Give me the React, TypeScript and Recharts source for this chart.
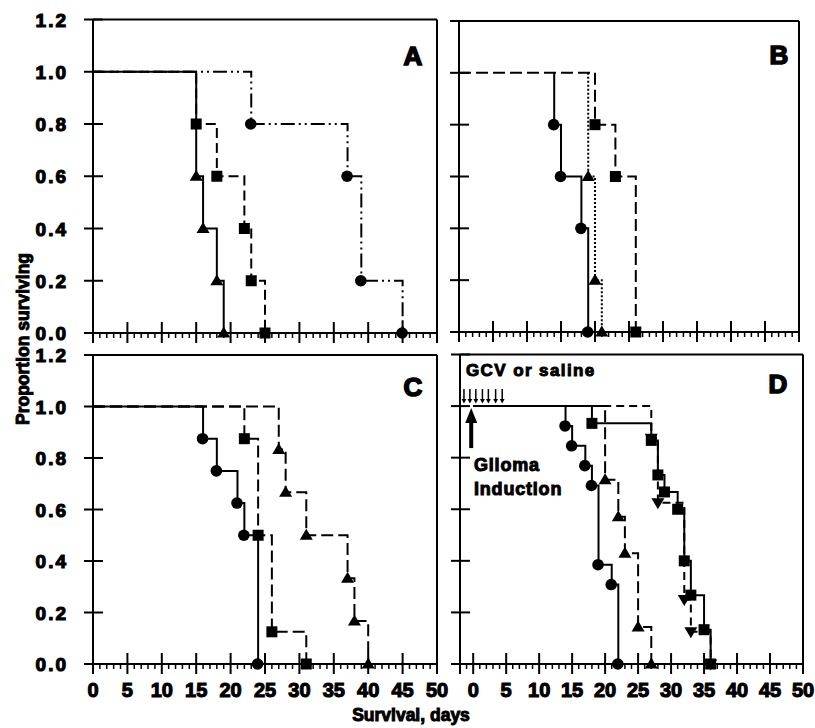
import React from 'react';
import { LineChart, Line, XAxis, YAxis, ReferenceLine, ReferenceDot } from 'recharts';

// ---- Panel A ----
const aTriDays = [0, 15, 16, 18, 19];
const aTriSurv = [1, 0.6, 0.4, 0.2, 0];
const aSqDays = [0, 15, 18, 22, 23, 25];
const aSqSurv = [1, 0.8, 0.6, 0.4, 0.2, 0];
const aCirDays = [0, 23, 37, 39, 45];
const aCirSurv = [1, 0.8, 0.6, 0.2, 0];

// ---- Panel B ----
const bCirDays = [14, 14, 15, 18, 19];
const bCirSurv = [1, 0.8, 0.6, 0.4, 0];
const bTriDays = [19, 19, 20, 21];
const bTriSurv = [1, 0.6, 0.2, 0];
const bSqDays = [0, 20, 23, 26];
const bSqSurv = [1, 0.8, 0.6, 0];

// ---- Panel C ----
const cCirDays = [0, 16, 18, 21, 22, 24];
const cCirSurv = [1, 0.875, 0.75, 0.625, 0.5, 0];
const cSqDays = [0, 22, 24, 26, 31];
const cSqSurv = [1, 0.875, 0.5, 0.125, 0];
const cTriDays = [0, 27, 28, 31, 37, 38, 40];
const cTriSurv = [1, 0.833, 0.667, 0.5, 0.333, 0.167, 0];

// ---- Panel D ----
const dCirDays = [0, 14, 15, 17, 18, 19, 21, 22];
const dCirSurv = [1, 0.923, 0.846, 0.769, 0.692, 0.385, 0.308, 0];
const dTriDays = [0, 20, 22, 23, 25, 27];
const dTriSurv = [1, 0.714, 0.571, 0.429, 0.143, 0];
const dSqDays = [0, 18, 27, 28, 29, 31, 32, 33, 35, 36];
const dSqSurv = [1, 0.933, 0.867, 0.733, 0.667, 0.6, 0.4, 0.267, 0.133, 0];
const dDownDays = [0, 27, 28, 32, 33, 36];
const dDownSurv = [1, 0.875, 0.625, 0.25, 0.125, 0];

// GCV / saline dosing days and glioma induction day (panel D annotation)
const gcvDays = [-1.4, -0.5, 0.4, 1.4, 2.3, 3.4, 4.4];
const inductionDay = -0.3;

const yTicks = [0, 0.2, 0.4, 0.6, 0.8, 1.0, 1.2];
const xTicksMain = Array.from({ length: 51 }, (_, i) => i);
const xTicksD = Array.from({ length: 53 }, (_, i) => i - 2);

const W = 815;
const H = 728;
const FONT = '"Liberation Sans", Arial, Helvetica, sans-serif';

const toPts = (days: number[], surv: number[]) => days.map((d, i) => ({ x: d, y: surv[i] }));

type Shape = 'circle' | 'square' | 'triangle' | 'down';

const Marker = (p: any) => {
  const { cx, cy, index, shape } = p;
  if (index === 0 || cx == null || cy == null) return <g key={`m${index}`} />;
  if (shape === 'circle') return <circle key={`m${index}`} cx={cx - 0.5} cy={cy} r={5.8} fill="#000" />;
  if (shape === 'square') return <rect key={`m${index}`} x={cx - 5.5} y={cy - 5.5} width={11} height={11} fill="#000" />;
  if (shape === 'triangle')
    return <path key={`m${index}`} d={`M${cx},${cy - 6.5} L${cx + 6.5},${cy + 4.5} L${cx - 6.5},${cy + 4.5} Z`} fill="#000" />;
  return <path key={`m${index}`} d={`M${cx},${cy + 6.5} L${cx + 6.5},${cy - 4.5} L${cx - 6.5},${cy - 4.5} Z`} fill="#000" />;
};

const XTick = (p: any) => {
  const { x, y, payload, showLabel, min } = p;
  const v = payload.value;
  const major = v % 5 === 0 || v === min;
  return (
    <g>
      {major ? (
        <line x1={x} x2={x} y1={y - 11} y2={y + 10} stroke="#000" strokeWidth={2} />
      ) : (
        <line x1={x} x2={x} y1={y} y2={y + 5} stroke="#000" strokeWidth={1.5} />
      )}
      {showLabel && v >= 0 && v % 5 === 0 && (
        <text x={x} y={y + 33} textAnchor="middle" fontFamily={FONT} fontWeight={700} fontSize={20}
          fill="#000" stroke="#000" strokeWidth={1.1}>
          {v}
        </text>
      )}
    </g>
  );
};

const YTick = (p: any) => {
  const { x, y, payload, showLabel } = p;
  return (
    <g>
      <line x1={x - 9} x2={x + 10} y1={y} y2={y} stroke="#000" strokeWidth={2} />
      {showLabel && (
        <text x={x - 25} y={y + 7} textAnchor="end" fontFamily={FONT} fontWeight={700} fontSize={19}
          fill="#000" stroke="#000" strokeWidth={1.1} letterSpacing={2}>
          {payload.value.toFixed(1)}
        </text>
      )}
    </g>
  );
};

type Series = { key: string; days: number[]; surv: number[]; shape: Shape; dash?: string };

type PanelProps = {
  box: { l: number; r: number; t: number; b: number };
  xDomain: [number, number];
  xTicks: number[];
  xLabels: boolean;
  yLabels: boolean;
  series: Series[];
  children?: React.ReactNode;
};

function Panel({ box, xDomain, xTicks, xLabels, yLabels, series, children }: PanelProps) {
  const yW = 50;
  const xH = 40;
  const margin = { left: box.l - yW, top: box.t, right: W - box.r, bottom: H - box.b - xH };
  return (
    <div style={{ position: 'absolute', left: 0, top: 0 }}>
      <LineChart width={W} height={H} margin={margin} style={{ overflow: 'visible' }}>
        <XAxis dataKey="x" type="number" domain={xDomain} ticks={xTicks} interval={0} height={xH}
          tickSize={0} tickMargin={0} tickLine={false} axisLine={{ stroke: '#000', strokeWidth: 2 }}
          tick={(p: any) => <XTick {...p} showLabel={xLabels} min={xDomain[0]} />} />
        <YAxis type="number" domain={[0, 1.2]} ticks={yTicks} interval={0} width={yW}
          tickSize={0} tickMargin={0} tickLine={false} axisLine={{ stroke: '#000', strokeWidth: 2 }}
          tick={(p: any) => <YTick {...p} showLabel={yLabels} />} />
        <ReferenceLine y={1.2} stroke="#000" strokeWidth={2} />
        <ReferenceLine x={xDomain[1]} stroke="#000" strokeWidth={2} />
        {series.map((s) => (
          <Line key={s.key} data={toPts(s.days, s.surv)} dataKey="y" type="stepAfter" stroke="#000"
            strokeWidth={2} strokeDasharray={s.dash} isAnimationActive={false} activeDot={false}
            dot={(p: any) => <Marker key={`${s.key}${p.index}`} {...p} shape={s.shape} />} />
        ))}
        {children}
      </LineChart>
    </div>
  );
}

const DownArrow = (p: any) => {
  const { cx, cy } = p;
  return (
    <g>
      <line x1={cx} x2={cx} y1={cy - 17} y2={cy - 6} stroke="#000" strokeWidth={1.5} />
      <path d={`M${cx - 2.4},${cy - 7} L${cx + 2.4},${cy - 7} L${cx},${cy - 2.5} Z`} fill="#000" />
    </g>
  );
};

const UpArrow = (p: any) => {
  const { cx, cy } = p;
  return (
    <g>
      <rect x={cx - 2} y={cy + 14} width={4} height={28} fill="#000" />
      <path d={`M${cx},${cy + 2} L${cx + 6},${cy + 17} L${cx - 6},${cy + 17} Z`} fill="#000" />
    </g>
  );
};

const txt = { fontFamily: FONT, fontWeight: 700 as const, fill: '#000', stroke: '#000', strokeWidth: 1 };

export default function App() {
  return (
    <div style={{ position: 'absolute', left: 0, top: 0, width: W, height: H, background: '#fff' }}>
      <Panel box={{ l: 93, r: 437, t: 19.5, b: 333 }} xDomain={[0, 50]} xTicks={xTicksMain} xLabels={false} yLabels
        series={[
          { key: 'ac', days: aCirDays, surv: aCirSurv, shape: 'circle', dash: '14 4 2 4 2 4' },
          { key: 'as', days: aSqDays, surv: aSqSurv, shape: 'square', dash: '10 5' },
          { key: 'at', days: aTriDays, surv: aTriSurv, shape: 'triangle' },
        ]} />
      <Panel box={{ l: 459, r: 799, t: 21, b: 332 }} xDomain={[0, 50]} xTicks={xTicksMain} xLabels={false} yLabels={false}
        series={[
          { key: 'bs', days: bSqDays, surv: bSqSurv, shape: 'square', dash: '12 5' },
          { key: 'bt', days: bTriDays, surv: bTriSurv, shape: 'triangle', dash: '2 2' },
          { key: 'bc', days: bCirDays, surv: bCirSurv, shape: 'circle' },
        ]} />
      <Panel box={{ l: 93, r: 437, t: 355, b: 664 }} xDomain={[0, 50]} xTicks={xTicksMain} xLabels yLabels
        series={[
          { key: 'ct', days: cTriDays, surv: cTriSurv, shape: 'triangle', dash: '12 5' },
          { key: 'cs', days: cSqDays, surv: cSqSurv, shape: 'square', dash: '12 5' },
          { key: 'cc', days: cCirDays, surv: cCirSurv, shape: 'circle' },
        ]} />
      <Panel box={{ l: 460, r: 803, t: 354.5, b: 664 }} xDomain={[-2, 50]} xTicks={xTicksD} xLabels yLabels={false}
        series={[
          { key: 'dt', days: dTriDays, surv: dTriSurv, shape: 'triangle', dash: '12 5' },
          { key: 'dd', days: dDownDays, surv: dDownSurv, shape: 'down', dash: '8 5' },
          { key: 'dc', days: dCirDays, surv: dCirSurv, shape: 'circle' },
          { key: 'ds', days: dSqDays, surv: dSqSurv, shape: 'square' },
        ]}>
        {gcvDays.map((d) => (
          <ReferenceDot key={`g${d}`} x={d} y={1} r={0} ifOverflow="visible" shape={(p: any) => <DownArrow {...p} />} />
        ))}
        <ReferenceDot x={inductionDay} y={1} r={0} ifOverflow="visible" shape={(p: any) => <UpArrow {...p} />} />
      </Panel>
      <svg width={W} height={H} style={{ position: 'absolute', left: 0, top: 0, pointerEvents: 'none' }}>
        <text x={413} y={65} textAnchor="middle" fontSize={26} {...txt} strokeWidth={1.6}>A</text>
        <text x={779} y={64} textAnchor="middle" fontSize={26} {...txt} strokeWidth={1.6}>B</text>
        <text x={413} y={396} textAnchor="middle" fontSize={26} {...txt} strokeWidth={1.6}>C</text>
        <text x={778} y={393} textAnchor="middle" fontSize={26} {...txt} strokeWidth={1.6}>D</text>
        <text x={466} y={376} fontSize={17} letterSpacing={1.4} {...txt}>GCV or saline</text>
        <text x={474} y={471} fontSize={18} letterSpacing={0.8} {...txt}>Glioma</text>
        <text x={474} y={495} fontSize={18} letterSpacing={0.8} {...txt}>Induction</text>
        <text x={411} y={721} textAnchor="middle" fontSize={17.5} {...txt}>Survival, days</text>
        <text transform="translate(29,339) rotate(-90)" textAnchor="middle" fontSize={17.5} {...txt}>Proportion surviving</text>
      </svg>
    </div>
  );
}
